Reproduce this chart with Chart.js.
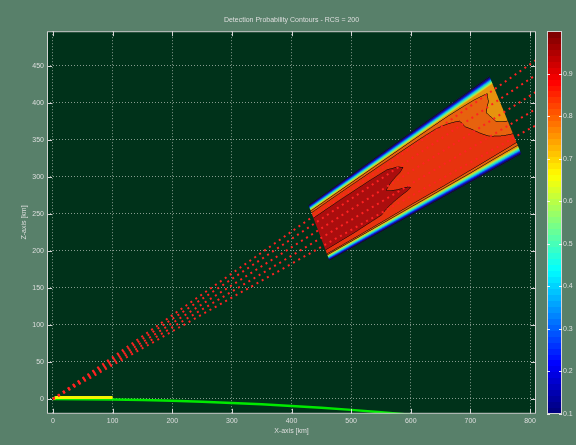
<!DOCTYPE html>
<html>
<head>
<meta charset="utf-8">
<script src="https://cdn.jsdelivr.net/npm/chart.js@4.4.1/dist/chart.umd.min.js"></script>
<style>
  html, body { margin: 0; padding: 0; background: #58806a; }
  canvas { display: block; }
</style>
</head>
<body>
<canvas id="chart" width="576" height="445"></canvas>
<script>
// ---- axis ticks ----
const X_TICKS = [0, 100, 200, 300, 400, 500, 600, 700, 800];
const Z_TICKS = [0, 50, 100, 150, 200, 250, 300, 350, 400, 450];
const PD_TICKS = [0.1, 0.2, 0.3, 0.4, 0.5, 0.6, 0.7, 0.8, 0.9];

// ---- radar search rays: from the site (0,0) to the right edge of the plot ----
const RAY_X_END = 810;
const RAY_Z_END = [458, 438, 415, 392, 370];

// ---- low-altitude track near the site ----
const TRACK_X = [0, 5, 100];
const TRACK_Z = [0, 2, 2];

// ---- earth surface profile ----
const EARTH_X = [0, 50, 100, 150, 200, 250, 300, 350, 400, 450, 500, 550, 600];
const EARTH_Z = [0, -0.2, -0.6, -1.3, -2.4, -3.7, -5.3, -7.2, -9.4, -11.9, -14.7, -17.8, -21.2];

// ---- detection region corners [km]: near-top, far-top, far-bottom, near-bottom ----
const REGION_X = [428.5, 731.8, 785.5, 463.7];
const REGION_Z = [262.2, 436.3, 330.8, 187.0];

// ---- Pd samples over the region: rows go along range (near -> far),
//      columns go across the beam (upper edge -> lower edge) ----
const PD_S = [0.00, 0.15, 0.30, 0.45, 0.60, 0.75, 0.88, 1.00];
const PD_T = [0.00, 0.025, 0.05, 0.10, 0.16, 0.25, 0.35, 0.50, 0.65, 0.78, 0.85, 0.90, 0.95, 0.975, 1.00];
const PD_ROWS = [
  [0.06, 0.20, 0.42, 0.79, 0.880, 0.965, 0.970, 0.970, 0.970, 0.965, 0.930, 0.79, 0.42, 0.20, 0.06],
  [0.06, 0.20, 0.42, 0.79, 0.885, 0.965, 0.970, 0.975, 0.970, 0.965, 0.920, 0.79, 0.42, 0.20, 0.06],
  [0.06, 0.20, 0.42, 0.79, 0.880, 0.960, 0.965, 0.960, 0.965, 0.950, 0.900, 0.79, 0.42, 0.20, 0.06],
  [0.06, 0.20, 0.42, 0.79, 0.870, 0.945, 0.955, 0.935, 0.955, 0.920, 0.880, 0.79, 0.42, 0.20, 0.06],
  [0.06, 0.20, 0.42, 0.79, 0.860, 0.900, 0.920, 0.925, 0.920, 0.910, 0.880, 0.79, 0.42, 0.20, 0.06],
  [0.06, 0.20, 0.42, 0.79, 0.840, 0.860, 0.870, 0.890, 0.900, 0.900, 0.870, 0.79, 0.42, 0.20, 0.06],
  [0.06, 0.20, 0.42, 0.78, 0.820, 0.830, 0.825, 0.840, 0.860, 0.875, 0.860, 0.78, 0.42, 0.20, 0.06],
  [0.06, 0.20, 0.42, 0.77, 0.790, 0.780, 0.755, 0.770, 0.830, 0.860, 0.850, 0.78, 0.42, 0.20, 0.06]
];

// contour levels and the ones outlined in black
const PD_LEVELS = [0.10, 0.20, 0.30, 0.40, 0.50, 0.60, 0.70, 0.75, 0.80, 0.85, 0.95];
const LINE_LEVELS = [0.10, 0.80, 0.85, 0.95];

const TITLE = 'Detection Probability Contours - RCS = 200';

// ---- colours ----
const FIG_BG = '#58806a';
const AX_BG = '#00321a';
const TEXT = '#dedede';
const FONT = { family: 'Liberation Sans, Arial, sans-serif', size: 7 };

function jet(x) {
  x = Math.min(1, Math.max(0, x));
  const c = v => Math.round(255 * Math.min(1, Math.max(0, v)));
  return [c(1.5 - Math.abs(4 * x - 3)), c(1.5 - Math.abs(4 * x - 2)), c(1.5 - Math.abs(4 * x - 1))];
}
// contour patches are drawn slightly muted against the colour bar
const mute = c => c.map(v => Math.round(v * 0.85 + 14));
const PD_MIN = 0.1, PD_MAX = 1.0;
// band -1 lies below the first level; band k lies between PD_LEVELS[k] and the next level
const BAND_RGB = [jet(0)].concat(PD_LEVELS.map(l => jet((l - PD_MIN) / (PD_MAX - PD_MIN)))).map(mute);
const LINE_RGB = [28, 10, 6];
const LINE_IDX = new Set(LINE_LEVELS.map(l => PD_LEVELS.indexOf(l)));

function segIndex(arr, v) {
  for (let k = 0; k < arr.length - 1; k++) if (v <= arr[k + 1]) return k;
  return arr.length - 2;
}
function pdAt(s, t) {
  const i = segIndex(PD_S, s), j = segIndex(PD_T, t);
  const fs = (s - PD_S[i]) / (PD_S[i + 1] - PD_S[i]);
  const ft = (t - PD_T[j]) / (PD_T[j + 1] - PD_T[j]);
  const a = PD_ROWS[i][j], b = PD_ROWS[i][j + 1], c = PD_ROWS[i + 1][j], d = PD_ROWS[i + 1][j + 1];
  return (1 - fs) * ((1 - ft) * a + ft * b) + fs * ((1 - ft) * c + ft * d);
}
function bandOf(v) {
  let k = -1;
  for (let m = 0; m < PD_LEVELS.length; m++) if (v >= PD_LEVELS[m]) k = m;
  return k;
}

// filled contour of the detection region, drawn beneath the datasets
const regionPlugin = {
  id: 'pdRegion',
  beforeDatasetsDraw(chart) {
    const xs = chart.scales.x, ys = chart.scales.y, ca = chart.chartArea, ctx = chart.ctx;
    const P = REGION_X.map((x, i) => [xs.getPixelForValue(x), ys.getPixelForValue(REGION_Z[i])]);
    const x0 = Math.floor(Math.min(...P.map(p => p[0]))) - 1;
    const x1 = Math.ceil(Math.max(...P.map(p => p[0]))) + 1;
    const y0 = Math.floor(Math.min(...P.map(p => p[1]))) - 1;
    const y1 = Math.ceil(Math.max(...P.map(p => p[1]))) + 1;
    const W = x1 - x0, H = y1 - y0, SS = 3, GW = W * SS, GH = H * SS, NONE = -100;
    const A = P[0];
    const B = [P[1][0] - P[0][0], P[1][1] - P[0][1]];
    const C = [P[3][0] - P[0][0], P[3][1] - P[0][1]];
    const D = [P[0][0] - P[1][0] + P[2][0] - P[3][0], P[0][1] - P[1][1] + P[2][1] - P[3][1]];
    const bands = new Int16Array(GW * GH);
    for (let gy = 0; gy < GH; gy++) {
      for (let gx = 0; gx < GW; gx++) {
        const px = x0 + (gx + 0.5) / SS, py = y0 + (gy + 0.5) / SS;
        let s = 0.5, t = 0.5;
        for (let it = 0; it < 8; it++) {
          const fx = A[0] + s * B[0] + t * C[0] + s * t * D[0] - px;
          const fy = A[1] + s * B[1] + t * C[1] + s * t * D[1] - py;
          const j11 = B[0] + t * D[0], j12 = C[0] + s * D[0];
          const j21 = B[1] + t * D[1], j22 = C[1] + s * D[1];
          const det = j11 * j22 - j12 * j21;
          s -= (j22 * fx - j12 * fy) / det;
          t -= (-j21 * fx + j11 * fy) / det;
        }
        const inside = s >= 0 && s <= 1 && t >= 0 && t <= 1;
        bands[gy * GW + gx] = inside ? bandOf(pdAt(s, t)) : NONE;
      }
    }
    const crossesLine = (b1, b2) => {
      const lo = Math.min(b1, b2), hi = Math.max(b1, b2);
      for (let k = lo + 1; k <= hi; k++) if (LINE_IDX.has(k)) return true;
      return false;
    };
    const off = document.createElement('canvas');
    off.width = W; off.height = H;
    const octx = off.getContext('2d');
    const img = octx.createImageData(W, H);
    for (let y = 0; y < H; y++) {
      for (let x = 0; x < W; x++) {
        let r = 0, g = 0, b = 0, a = 0;
        for (let sy = 0; sy < SS; sy++) {
          for (let sx = 0; sx < SS; sx++) {
            const gx = x * SS + sx, gy = y * SS + sy, idx = gy * GW + gx;
            const bd = bands[idx];
            if (bd === NONE) continue;
            let col = BAND_RGB[bd + 1];
            const nb = [];
            if (gx > 0) nb.push(bands[idx - 1]);
            if (gx < GW - 1) nb.push(bands[idx + 1]);
            if (gy > 0) nb.push(bands[idx - GW]);
            if (gy < GH - 1) nb.push(bands[idx + GW]);
            for (const n of nb) {
              if (n !== NONE && n !== bd && crossesLine(bd, n)) { col = LINE_RGB; break; }
            }
            r += col[0]; g += col[1]; b += col[2]; a++;
          }
        }
        if (a > 0) {
          const o = (y * W + x) * 4;
          img.data[o] = r / a; img.data[o + 1] = g / a; img.data[o + 2] = b / a;
          img.data[o + 3] = 255 * a / (SS * SS);
        }
      }
    }
    octx.putImageData(img, 0, 0);
    ctx.save();
    ctx.beginPath();
    ctx.rect(ca.left, ca.top, ca.right - ca.left, ca.bottom - ca.top);
    ctx.clip();
    ctx.drawImage(off, x0, y0);
    ctx.restore();
  }
};

// figure and axes backgrounds plus the title
const backdropPlugin = {
  id: 'backdrop',
  beforeDraw(chart) {
    const { ctx, chartArea: ca, width, height } = chart;
    ctx.save();
    ctx.fillStyle = FIG_BG;
    ctx.fillRect(0, 0, width, height);
    ctx.fillStyle = AX_BG;
    ctx.fillRect(ca.left, ca.top, ca.right - ca.left, ca.bottom - ca.top);
    ctx.fillStyle = TEXT;
    ctx.font = `${FONT.size}px ${FONT.family}`;
    ctx.textAlign = 'center';
    ctx.textBaseline = 'middle';
    ctx.fillText(TITLE, (ca.left + ca.right) / 2, 20);
    ctx.restore();
  }
};

// axes box, inward tick marks and the colour bar
const framePlugin = {
  id: 'frame',
  afterDraw(chart) {
    const { ctx, chartArea: ca } = chart;
    const xs = chart.scales.x, ys = chart.scales.y, cs = chart.scales.pd;
    ctx.save();
    ctx.strokeStyle = '#d4d4d4';
    ctx.lineWidth = 1;
    ctx.strokeRect(ca.left + 0.5, ca.top + 0.5, ca.right - ca.left - 1, ca.bottom - ca.top - 1);
    ctx.beginPath();
    X_TICKS.forEach(v => {
      const x = Math.round(xs.getPixelForValue(v)) + 0.5;
      ctx.moveTo(x, ca.bottom); ctx.lineTo(x, ca.bottom - 5);
      ctx.moveTo(x, ca.top); ctx.lineTo(x, ca.top + 5);
    });
    Z_TICKS.forEach(v => {
      const y = Math.round(ys.getPixelForValue(v)) + 0.5;
      ctx.moveTo(ca.left, y); ctx.lineTo(ca.left + 5, y);
      ctx.moveTo(ca.right, y); ctx.lineTo(ca.right - 5, y);
    });
    ctx.stroke();

    // colour bar
    const bl = ca.right + 11, bw = 15, n = 64;
    for (let k = 0; k < n; k++) {
      const v0 = PD_MIN + (PD_MAX - PD_MIN) * k / n;
      const v1 = PD_MIN + (PD_MAX - PD_MIN) * (k + 1) / n;
      const yTop = cs.getPixelForValue(v1), yBot = cs.getPixelForValue(v0);
      const c = jet(k / (n - 1));
      ctx.fillStyle = `rgb(${c[0]},${c[1]},${c[2]})`;
      ctx.fillRect(bl, Math.floor(yTop), bw, Math.ceil(yBot) - Math.floor(yTop));
    }
    ctx.strokeStyle = '#d4d4d4';
    const cTop = cs.getPixelForValue(PD_MAX), cBot = cs.getPixelForValue(PD_MIN);
    ctx.strokeRect(bl + 0.5, Math.round(cTop) + 0.5, bw - 1, Math.round(cBot - cTop) - 1);
    ctx.strokeStyle = 'rgba(255,255,255,0.85)';
    ctx.beginPath();
    PD_TICKS.forEach(v => {
      const y = Math.round(cs.getPixelForValue(v)) + 0.5;
      ctx.moveTo(bl, y); ctx.lineTo(bl + 3, y);
      ctx.moveTo(bl + bw, y); ctx.lineTo(bl + bw - 3, y);
    });
    ctx.stroke();
    ctx.restore();
  }
};

const pts = (xs, zs) => xs.map((x, i) => ({ x, y: zs[i] }));

const rayDatasets = RAY_Z_END.map(z => ({
  data: [{ x: 0, y: 0 }, { x: RAY_X_END, y: z }],
  showLine: true,
  borderColor: '#ff2222',
  borderWidth: 2,
  borderDash: [2, 4],
  pointRadius: 0,
  fill: false
}));

const gridStyle = { color: 'rgba(205,212,205,0.65)', lineWidth: 1, drawTicks: false };

new Chart(document.getElementById('chart').getContext('2d'), {
  type: 'scatter',
  data: {
    datasets: [
      ...rayDatasets,
      { data: pts(TRACK_X, TRACK_Z), showLine: true, borderColor: '#f4f400', borderWidth: 3, pointRadius: 0 },
      { data: pts(EARTH_X, EARTH_Z), showLine: true, borderColor: '#00e800', borderWidth: 2.5, pointRadius: 0 }
    ]
  },
  options: {
    responsive: false,
    animation: false,
    devicePixelRatio: 1,
    layout: { padding: { top: 27, left: 0, right: 0, bottom: 0 } },
    plugins: { legend: { display: false }, tooltip: { enabled: false }, title: { display: false } },
    scales: {
      x: {
        type: 'linear', position: 'bottom', min: -10, max: 810,
        afterBuildTicks: s => { s.ticks = X_TICKS.map(v => ({ value: v })); },
        afterFit: s => { s.height = 26; },
        grid: gridStyle,
        border: { display: false, dash: [1, 2] },
        ticks: { color: TEXT, font: FONT, padding: 3, maxRotation: 0, callback: v => String(v) },
        title: { display: true, text: 'X-axis [km]', color: TEXT, font: FONT, padding: { top: 0, bottom: 5 } }
      },
      y: {
        type: 'linear', position: 'left', min: -20, max: 497,
        afterBuildTicks: s => { s.ticks = Z_TICKS.map(v => ({ value: v })); },
        afterFit: s => { s.width = 47; },
        grid: gridStyle,
        border: { display: false, dash: [1, 2] },
        ticks: { color: TEXT, font: FONT, padding: 3, callback: v => String(v) },
        title: { display: true, text: 'Z-axis [km]', color: TEXT, font: FONT, padding: { top: 20, bottom: 0 } }
      },
      pd: {
        type: 'linear', position: 'right', axis: 'y', min: PD_MIN, max: PD_MAX,
        afterBuildTicks: s => { s.ticks = PD_TICKS.map(v => ({ value: v })); },
        afterFit: s => { s.width = 40; },
        grid: { display: false, drawTicks: false },
        border: { display: false },
        ticks: { color: TEXT, font: FONT, padding: 27, callback: v => Number(v).toFixed(1) }
      }
    }
  },
  plugins: [backdropPlugin, regionPlugin, framePlugin]
});
</script>
</body>
</html>
